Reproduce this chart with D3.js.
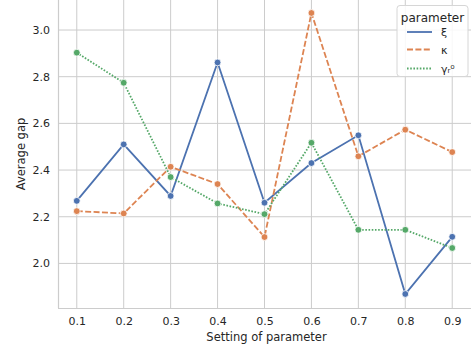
<!DOCTYPE html>
<html><head><meta charset="utf-8">
<script src="https://cdn.jsdelivr.net/npm/d3@7"></script>
<style>body{margin:0;background:#fff}svg{display:block;font-family:"DejaVu Sans",sans-serif}</style>
</head><body><svg id="c" width="471" height="352"></svg>
<script>
const settings = [0.1,0.2,0.3,0.4,0.5,0.6,0.7,0.8,0.9];
const xi    = [2.268,2.510,2.289,2.861,2.260,2.430,2.549,1.869,2.114];
const kappa = [2.224,2.214,2.414,2.340,2.113,3.073,2.459,2.573,2.477];
const gamma = [2.903,2.774,2.370,2.257,2.211,2.517,2.144,2.144,2.066];
const xTicks = [0.1,0.2,0.3,0.4,0.5,0.6,0.7,0.8,0.9];
const yTicks = [2.0,2.2,2.4,2.6,2.8,3.0];
const seriesNames = ["ξ","κ","γᵣ⁰"];
const colors = ["#4c72b0","#dd8452","#55a868"];
const dashes = [null,"6,2.4","1.6,1.6"];

const svg = d3.select("#c");
const L=58, R=471, T=0, B=308;
const x = d3.scaleLinear().domain([0.06,0.94]).range([L,R]);
const y = d3.scaleLinear().domain([1.809,3.1286]).range([B,T]);
const txt="#262626", grid="#cccccc";

// grid
svg.append("g").selectAll("line").data(xTicks).join("line")
  .attr("x1",d=>x(d)).attr("x2",d=>x(d)).attr("y1",T).attr("y2",B)
  .attr("stroke",grid).attr("stroke-width",1);
svg.append("g").selectAll("line").data(yTicks).join("line")
  .attr("x1",L).attr("x2",R).attr("y1",d=>y(d)).attr("y2",d=>y(d))
  .attr("stroke",grid).attr("stroke-width",1);
// spines
svg.append("line").attr("x1",L+0.5).attr("x2",L+0.5).attr("y1",T).attr("y2",B).attr("stroke",grid).attr("stroke-width",1.2);
svg.append("line").attr("x1",L).attr("x2",R).attr("y1",B+0.5).attr("y2",B+0.5).attr("stroke",grid).attr("stroke-width",1.2);

// axes via d3
const xAxis = svg.append("g").attr("transform",`translate(0,${B})`)
  .call(d3.axisBottom(x).tickValues(xTicks).tickFormat(d3.format(".1f")).tickSize(0).tickPadding(9));
const yAxis = svg.append("g").attr("transform",`translate(${L},0)`)
  .call(d3.axisLeft(y).tickValues(yTicks).tickFormat(d3.format(".1f")).tickSize(0).tickPadding(8));
[xAxis,yAxis].forEach(a=>{a.select(".domain").remove();
  a.selectAll("text").attr("fill",txt).style("font-size","11px").style("font-family","DejaVu Sans");});

svg.append("text").attr("x",(L+R)/2+2).attr("y",341).attr("text-anchor","middle")
  .attr("fill",txt).style("font-size","11.5px").text("Setting of parameter");
svg.append("text").attr("transform",`translate(25,${(T+B)/2})rotate(-90)`).attr("text-anchor","middle")
  .attr("fill",txt).style("font-size","11.5px").text("Average gap");

const all=[xi,kappa,gamma];
const line=d3.line().x((d,i)=>x(settings[i])).y(d=>y(d));
all.forEach((s,k)=>{
  svg.append("path").datum(s).attr("d",line).attr("fill","none")
    .attr("stroke",colors[k]).attr("stroke-width",1.8)
    .attr("stroke-dasharray",dashes[k]);
});
all.forEach((s,k)=>{
  svg.append("g").selectAll("circle").data(s).join("circle")
    .attr("cx",(d,i)=>x(settings[i])).attr("cy",d=>y(d)).attr("r",3.4)
    .attr("fill",colors[k]).attr("stroke","#fff").attr("stroke-width",0.8);
});

// legend
const lg=svg.append("g");
lg.append("rect").attr("x",397).attr("y",5.5).attr("width",71).attr("height",71).attr("rx",3)
  .attr("fill","#fff").attr("fill-opacity",0.85).attr("stroke","#d6d6d6");
lg.append("text").attr("x",432.5).attr("y",22).attr("text-anchor","middle").attr("fill",txt)
  .style("font-size","12px").text("parameter");
const rows=[32,49.5,68.5];
seriesNames.forEach((n,k)=>{
  lg.append("line").attr("x1",407).attr("x2",432).attr("y1",rows[k]).attr("y2",rows[k])
    .attr("stroke",colors[k]).attr("stroke-width",1.8).attr("stroke-dasharray",dashes[k]);
  lg.append("text").attr("x",441).attr("y",rows[k]+4).attr("fill",txt).style("font-size","11px").text(n);
});
</script></body></html>
